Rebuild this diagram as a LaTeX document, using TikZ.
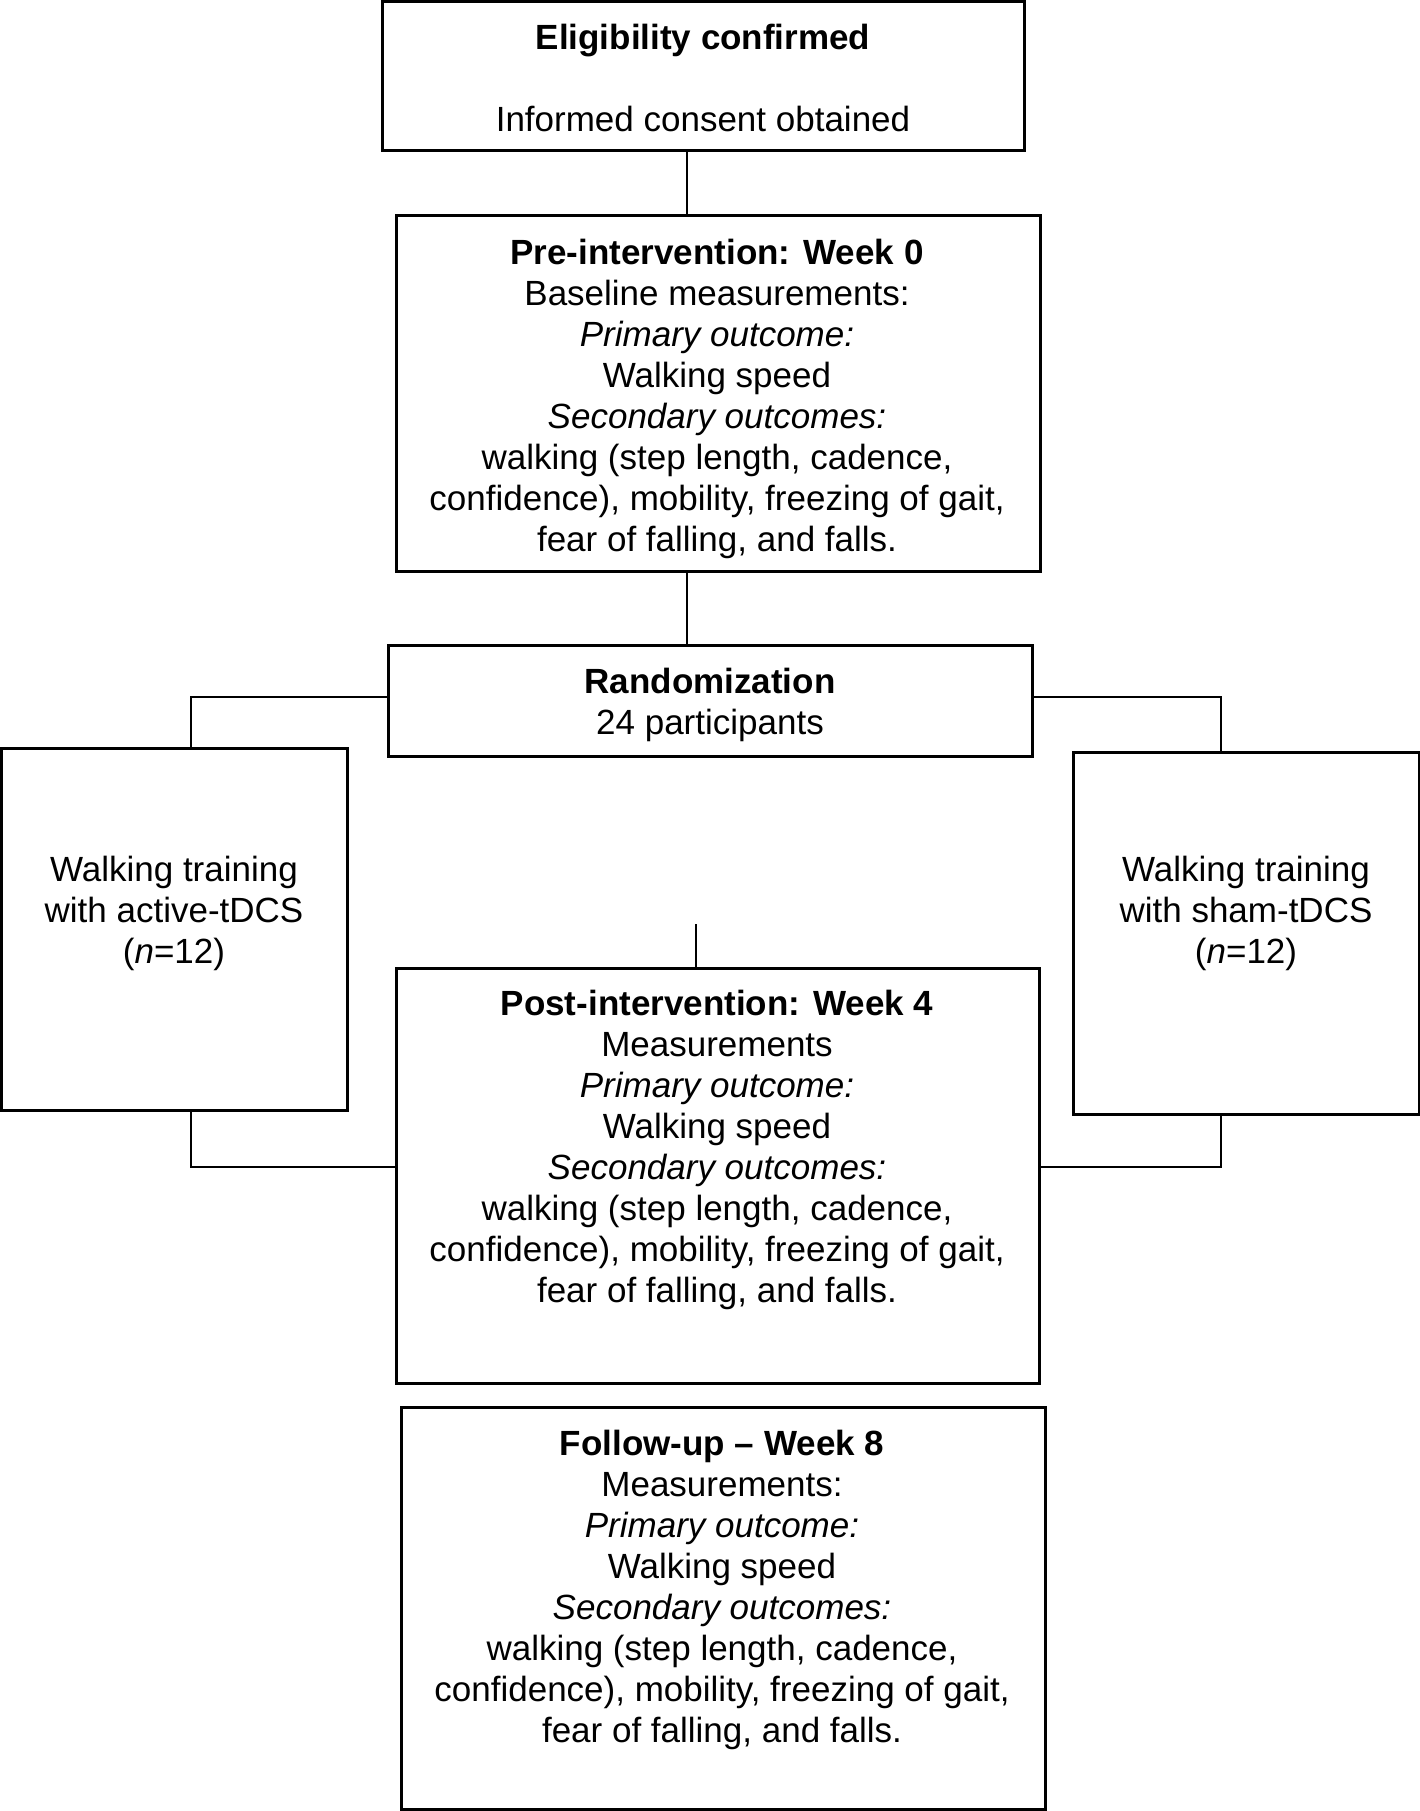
\documentclass[tikz,border=0pt]{standalone}
\usepackage{fontspec}
\setmainfont{Liberation Sans}
\begin{document}
\begin{tikzpicture}[x=1pt,y=-1pt,
  box/.style={draw=black,line width=3pt,rectangle,inner sep=0pt},
  txt/.style={align=center,inner sep=0pt,font=\fontsize{35}{41}\selectfont},
  conn/.style={draw=black,line width=2.8pt}]
\useasboundingbox[fill=white] (0,0) rectangle (1420,1811);
% boxes
\node[box,minimum width=642,minimum height=149] (b1) at (703,76.5) {};
\node[box,minimum width=644,minimum height=355] (b2) at (718,393.5) {};
\node[box,minimum width=644,minimum height=111] (b3) at (710,700.5) {};
\node[box,minimum width=346,minimum height=362] (lb) at (174,929) {};
\node[box,minimum width=346,minimum height=362] (rb) at (1246,933) {};
\node[box,minimum width=643,minimum height=415] (b4) at (717.5,1175.5) {};
\node[box,minimum width=644,minimum height=402] (b5) at (723,1608) {};
% texts
\node[txt] (t1) at (703,77.5) {\textbf{Eligibility confirmed}\\[41pt]Informed consent obtained};
\node[txt] (t2) at (717,399) {\textbf{Pre-intervention: Week 0}\\Baseline measurements:\\\textit{Primary outcome:}\\Walking speed\\\textit{Secondary outcomes:}\\walking (step length, cadence,\\confidence), mobility, freezing of gait,\\fear of falling, and falls.};
\node[txt] (t3) at (710,705) {\textbf{Randomization}\\24 participants};
\node[txt] (tl) at (174,913) {Walking training\\with active-tDCS\\(\textit{n}=12)};
\node[txt] (tr) at (1246,913) {Walking training\\with sham-tDCS\\(\textit{n}=12)};
\node[txt] (t4) at (717,1150) {\textbf{Post-intervention: Week 4}\\Measurements\\\textit{Primary outcome:}\\Walking speed\\\textit{Secondary outcomes:}\\walking (step length, cadence,\\confidence), mobility, freezing of gait,\\fear of falling, and falls.};
\node[txt] (t5) at (722,1590) {\textbf{Follow-up – Week 8}\\Measurements:\\\textit{Primary outcome:}\\Walking speed\\\textit{Secondary outcomes:}\\walking (step length, cadence,\\confidence), mobility, freezing of gait,\\fear of falling, and falls.};
% connectors
\draw[conn] (b1.south -| 687,0) -- (b2.north -| 687,0);
\draw[conn] (b2.south -| 687,0) -- (b3.north -| 687,0);
\draw[conn] (b3.west |- 0,697) -- (191,697) -- (lb.north -| 191,0);
\draw[conn] (b3.east |- 0,697) -- (1221,697) -- (rb.north -| 1221,0);
\coordinate (free) at (696,924);
\draw[conn] (free) -- (b4.north -| free);
\draw[conn] (lb.south -| 191,0) -- (191,1167) -- (b4.west |- 0,1167);
\draw[conn] (rb.south -| 1221,0) -- (1221,1167) -- (b4.east |- 0,1167);
\end{tikzpicture}
\end{document}
